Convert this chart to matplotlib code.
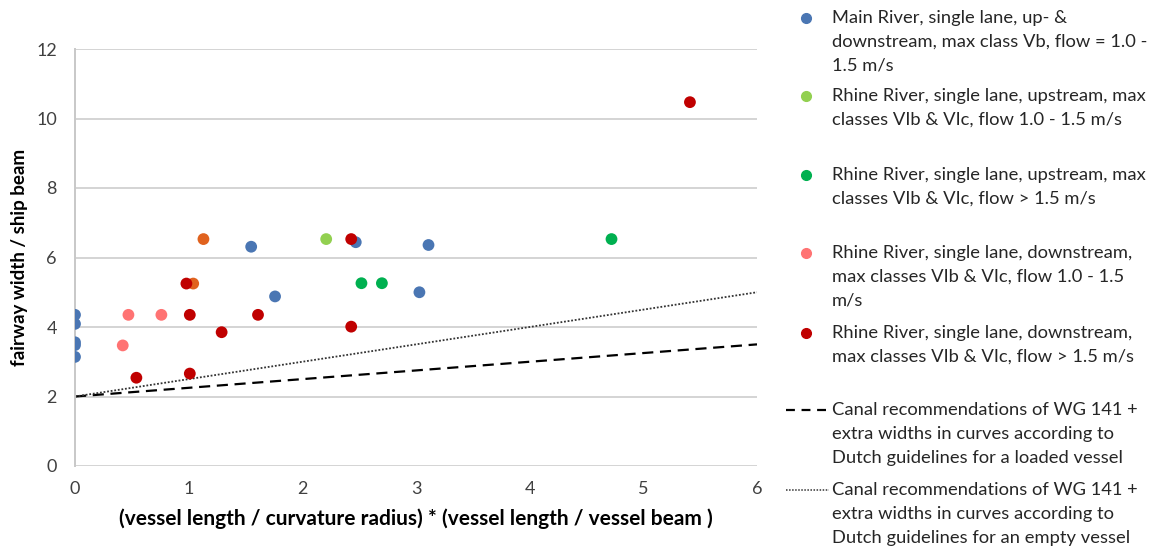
import numpy as np
import matplotlib.pyplot as plt

# data
main_x = [0, 0, 0, 0, 0, 1.55, 1.76, 2.47, 3.03, 3.11]
main_y = [4.35, 4.09, 3.56, 3.48, 3.14, 6.31, 4.88, 6.44, 5.0, 6.36]

rhine_up_low_x = [2.21]
rhine_up_low_y = [6.53]

rhine_up_high_x = [2.52, 2.70, 4.72]
rhine_up_high_y = [5.26, 5.26, 6.53]

rhine_down_low_x = [0.47, 0.76, 0.42]
rhine_down_low_y = [4.35, 4.35, 3.47]

rhine_down_high_x = [0.98, 1.01, 1.61, 1.29, 0.54, 1.01, 2.43, 2.43, 5.41]
rhine_down_high_y = [5.25, 4.35, 4.35, 3.85, 2.54, 2.66, 4.01, 6.53, 10.47]

# unlabelled series (not in the legend)
other_x = [1.13, 1.04]
other_y = [6.53, 5.25]

line_x = [0, 6]
loaded_y = [2.0, 3.5]
empty_y = [2.0, 5.0]

labels = [
    "Main River, single lane, up- &\ndownstream, max class Vb, flow = 1.0 -\n1.5 m/s",
    "Rhine River, single lane, upstream, max\nclasses VIb & VIc, flow 1.0 - 1.5 m/s",
    "Rhine River, single lane, upstream, max\nclasses VIb & VIc, flow > 1.5 m/s",
    "Rhine River, single lane, downstream,\nmax classes VIb & VIc, flow 1.0 - 1.5\nm/s",
    "Rhine River, single lane, downstream,\nmax classes VIb & VIc, flow > 1.5 m/s",
    "Canal recommendations of WG 141 +\nextra widths in curves according to\nDutch guidelines for a loaded vessel",
    "Canal recommendations of WG 141 +\nextra widths in curves according to\nDutch guidelines for an empty vessel",
]
colors = ["#4A76B3", "#92D050", "#00B050", "#FF7373", "#C00000"]

plt.rcParams['font.family'] = ['Lato', 'DejaVu Sans']

fig = plt.figure(figsize=(11.49, 5.48), dpi=100)
ax = fig.add_axes([75 / 1149, 1 - 466 / 548, (757 - 75) / 1149, (466 - 49) / 548])

ax.plot(line_x, loaded_y, color="black", ls=(0, (5, 3)), lw=1.6, zorder=2)
ax.plot(line_x, empty_y, color="#333333", ls=(0, (1, 1)), lw=1.3, zorder=2)

ms = 72
series = [(main_x, main_y), (rhine_up_low_x, rhine_up_low_y), (rhine_up_high_x, rhine_up_high_y),
          (rhine_down_low_x, rhine_down_low_y)]
for (xs, ys), c in zip(series, colors):
    ax.scatter(xs, ys, s=ms, color=c, edgecolors="none", zorder=3)
ax.scatter(other_x, other_y, s=ms, color="#E0621E", edgecolors="none", zorder=3)
ax.scatter(rhine_down_high_x, rhine_down_high_y, s=ms, color=colors[4], edgecolors="none", zorder=4)

ax.set_xlim(0, 6)
ax.set_ylim(0, 12)
ax.set_xticks(range(0, 7))
ax.set_yticks(range(0, 13, 2))
ax.grid(axis="y", color="#D4D4D4", lw=1.4)
ax.set_axisbelow(True)
for s in ["top", "right", "bottom"]:
    ax.spines[s].set_visible(False)
ax.spines["left"].set_color("#C8C8C8")
ax.spines["left"].set_linewidth(1.4)
ax.tick_params(length=0, labelsize=13, colors="#404040", pad=13)
ax.tick_params(axis="x", pad=11)

ax.set_xlabel("(vessel length / curvature radius) * (vessel length / vessel beam )",
              fontsize=15, fontweight="bold", labelpad=8)
ax.set_ylabel("fairway width / ship beam", fontsize=13.5, fontweight="bold", labelpad=6)

# legend drawn at fixed spacing like the original
entry_y = [18, 96, 175, 253, 333, 410, 490]
for i, (lab, yp) in enumerate(zip(labels, entry_y)):
    yf = 1 - yp / 548
    if i < 5:
        fig.lines.append(plt.Line2D([806 / 1149], [yf], transform=fig.transFigure, marker="o",
                                    ms=7, color=colors[i], ls="none"))
    elif i == 5:
        fig.lines.append(plt.Line2D([786 / 1149, 829 / 1149], [yf, yf], transform=fig.transFigure,
                                    color="black", ls=(0, (4, 3)), lw=1.6))
    else:
        fig.lines.append(plt.Line2D([786 / 1149, 829 / 1149], [yf, yf], transform=fig.transFigure,
                                    color="#333333", ls=(0, (1, 1)), lw=1.1))
    fig.text(832 / 1149, yf + 8 / 548, lab, fontsize=13.2, va="top", ha="left",
             color="#262626", linespacing=1.6)

fig.savefig("out.png", dpi=100)
